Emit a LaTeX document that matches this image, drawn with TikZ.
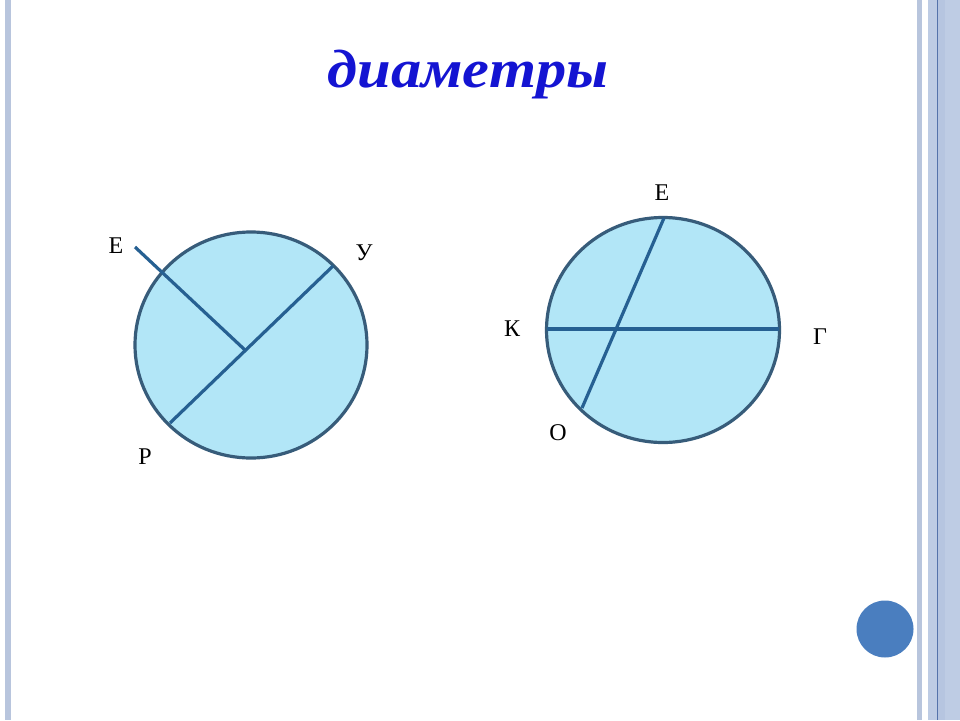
\documentclass[tikz,border=0pt]{standalone}
\usepackage{fontspec}
\setmainfont{Liberation Serif}
\definecolor{titleblue}{RGB}{20,20,210}
\definecolor{circfill}{RGB}{178,230,247}
\definecolor{circline}{RGB}{55,92,122}
\definecolor{chord}{RGB}{38,96,146}
\definecolor{barA}{RGB}{184,197,221}
\definecolor{barB}{RGB}{190,204,228}
\definecolor{barC}{RGB}{182,197,224}
\definecolor{barline}{RGB}{85,115,170}
\definecolor{dotblue}{RGB}{74,126,191}
\begin{document}
\begin{tikzpicture}[x=1pt,y=-1pt,
  circ/.style={draw=circline,line width=3.2pt,fill=circfill},
  chordline/.style={draw=chord,line width=3.2pt},
  lbl/.style={font=\fontsize{24}{24}\selectfont,inner sep=0pt}]
\useasboundingbox (0,0) rectangle (960,720);
\fill[white] (0,0) rectangle (960,720);
% frame bars
\fill[barA] (5,0) rectangle (11,720);
\fill[barA] (917,0) rectangle (922,720);
\fill[barB] (928,0) rectangle (960,720);
\fill[barC] (938,0) rectangle (945,720);
\fill[barB] (948,0) rectangle (960,720);
\fill[barline] (936.5,0) rectangle (938,720);
\fill[barC] (944,0) rectangle (945,720);
% title
\node[font=\fontsize{54}{54}\selectfont\bfseries\itshape,text=titleblue,inner sep=0pt,xscale=1.12] (title) at (468,75) {диаметры};
% left circle
\path[circ] (251,345) ellipse [x radius=116,y radius=113];
\coordinate (lE) at (135,247);
\coordinate (lC) at (245,350);
\coordinate (lU) at (333,266);
\coordinate (lP) at (170,423);
\draw[chordline] (lE) -- (lC);
\draw[chordline] (lU) -- (lP);
\node[lbl] (tE1) at (116,246) {Е};
\node[lbl] (tU) at (364,253) {У};
\node[lbl] (tP) at (145,457) {Р};
% right circle
\path[circ] (663,330) ellipse [x radius=116.5,y radius=112.5];
\coordinate (rK) at (547,329);
\coordinate (rG) at (779,329);
\coordinate (rE) at (664,218);
\coordinate (rO) at (582,408);
\draw[chordline] (rK) -- (rG);
\draw[chordline] (rE) -- (rO);
\node[lbl] (tE2) at (662,193) {Е};
\node[lbl] (tK) at (512,329) {К};
\node[lbl] (tG) at (820,337) {Г};
\node[lbl] (tO) at (558,433) {О};
% blue dot
\fill[dotblue] (885,629) circle (28.5);
\end{tikzpicture}
\end{document}
